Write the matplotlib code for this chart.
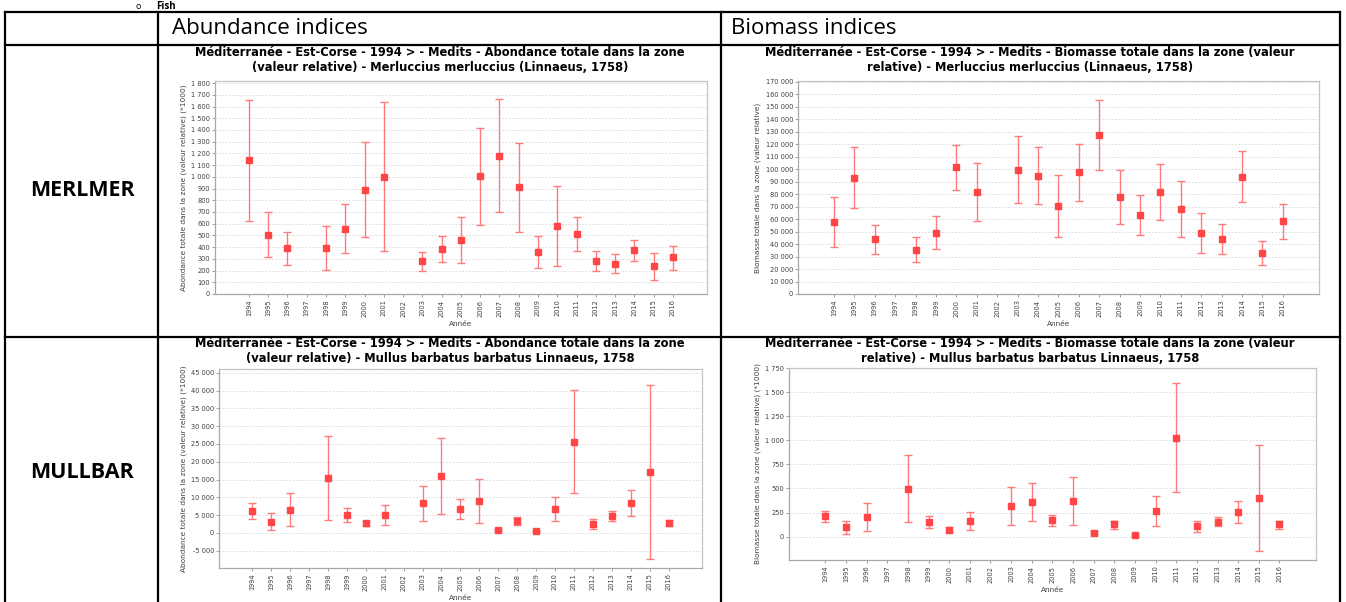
import numpy as np
import matplotlib.pyplot as plt
from matplotlib.lines import Line2D
from matplotlib.ticker import FuncFormatter, MultipleLocator

W, H = 1346, 602

years = list(range(1994, 2017))
nan = np.nan

# MERLMER - abondance (*1000)
merl_ab = [1140, 505, 390, nan, 390, 555, 890, 1000, nan, 280, 380, 458, 1003, 1182, 910, 357, 584, 516, 281, 258, 374, 238, 315]
merl_ab_lo = [625, 315, 250, nan, 205, 350, 485, 365, nan, 200, 272, 264, 590, 700, 527, 221, 238, 366, 196, 179, 281, 119, 207]
merl_ab_hi = [1655, 700, 525, nan, 580, 770, 1300, 1635, nan, 360, 499, 658, 1420, 1661, 1292, 493, 924, 658, 366, 340, 459, 349, 411]

# MERLMER - biomasse
merl_bio = [57300, 93100, 43800, nan, 35500, 48800, 101900, 81700, nan, 99500, 94400, 70300, 97300, 127300, 77700, 63400, 81700, 67900, 49100, 43800, 93900, 32600, 58100]
merl_bio_lo = [37400, 69200, 32100, nan, 25500, 36100, 83600, 58600, nan, 73200, 71900, 45600, 74300, 99200, 55700, 47000, 59200, 45600, 32600, 31800, 73700, 23100, 43800]
merl_bio_hi = [78000, 117500, 55200, nan, 45900, 62100, 119600, 104800, nan, 126300, 117500, 95000, 120200, 155400, 99200, 79600, 104200, 90500, 64500, 55700, 114600, 42400, 72400]

# MULLBAR - abondance (*1000)
mull_ab = [6190, 3000, 6380, nan, 15290, 4880, 2630, 4880, nan, 8260, 16040, 6660, 9010, 750, 3380, 380, 6660, 25520, 2440, 4690, 8260, 16980, 2810]
mull_ab_lo = [3940, 660, 1880, nan, 3560, 3000, 1880, 2250, nan, 3190, 5250, 3750, 2810, 380, 2060, 90, 3190, 11070, 1030, 3190, 4780, -7500, 1880]
mull_ab_hi = [8440, 5530, 11160, nan, 27200, 6850, 3280, 7690, nan, 13230, 26640, 9380, 15100, 1130, 4500, 560, 10030, 40060, 3940, 6000, 12100, 41460, 3660]

# MULLBAR - biomasse (*1000)
mull_bio = [211, 95, 204, nan, 499, 153, 73, 163, nan, 319, 364, 170, 374, 38, 128, 21, 270, 1026, 107, 153, 257, 399, 128]
mull_bio_lo = [148, 28, 56, nan, 153, 94, 45, 66, nan, 121, 166, 107, 121, 24, 83, 7, 114, 465, 45, 107, 146, -153, 83]
mull_bio_hi = [271, 162, 354, nan, 850, 215, 97, 257, nan, 517, 558, 229, 624, 55, 166, 31, 426, 1592, 166, 208, 367, 947, 166]

titles = [
    "Méditerranée - Est-Corse - 1994 > - Medits - Abondance totale dans la zone\n(valeur relative) - Merluccius merluccius (Linnaeus, 1758)",
    "Méditerranée - Est-Corse - 1994 > - Medits - Biomasse totale dans la zone (valeur\nrelative) - Merluccius merluccius (Linnaeus, 1758)",
    "Méditerranée - Est-Corse - 1994 > - Medits - Abondance totale dans la zone\n(valeur relative) - Mullus barbatus barbatus Linnaeus, 1758",
    "Méditerranée - Est-Corse - 1994 > - Medits - Biomasse totale dans la zone (valeur\nrelative) - Mullus barbatus barbatus Linnaeus, 1758",
]
ylabels = [
    "Abondance totale dans la zone (valeur relative) (*1000)",
    "Biomasse totale dans la zone (valeur relative)",
    "Abondance totale dans la zone (valeur relative) (*1000)",
    "Biomasse totale dans la zone (valeur relative) (*1000)",
]


def rect(x0, y0, x1, y1):
    return [x0 / W, 1 - y1 / H, (x1 - x0) / W, (y1 - y0) / H]


def fmt(v, pos):
    return "{:,.0f}".format(v).replace(",", " ")


fig = plt.figure(figsize=(W / 100, H / 100), dpi=100)

panels = [
    (rect(215, 81, 707, 294), merl_ab, merl_ab_lo, merl_ab_hi, (0, 1818), 100, (440, 60)),
    (rect(798, 81, 1319, 294), merl_bio, merl_bio_lo, merl_bio_hi, (0, 170500), 10000, (1030, 60)),
    (rect(219, 369, 702, 568), mull_ab, mull_ab_lo, mull_ab_hi, (-9900, 46100), 5000, (440, 351)),
    (rect(789, 368, 1316, 560), mull_bio, mull_bio_lo, mull_bio_hi, (-243, 1752), 250, (1030, 351)),
]

x = np.arange(len(years))
for i, (r, m, lo, hi, ylim, step, tpos) in enumerate(panels):
    ax = fig.add_axes(r)
    m = np.array(m, dtype=float)
    lo = np.array(lo, dtype=float)
    hi = np.array(hi, dtype=float)
    ax.errorbar(x, m, yerr=[m - lo, hi - m], fmt='none', ecolor='#ff7b7b',
                elinewidth=1.0, capsize=3.2, capthick=1.0, zorder=3)
    ax.plot(x, m, 's', color='#ff4545', ms=4.3, mec='#ff4545', zorder=4)
    ax.set_xlim(-1.76, 23.77)
    ax.set_ylim(*ylim)
    ax.yaxis.set_major_locator(MultipleLocator(step))
    ax.yaxis.set_major_formatter(FuncFormatter(fmt))
    ax.set_xticks(x)
    ax.set_xticklabels([str(y) for y in years], rotation=90, fontsize=4.8, color='#404040')
    ax.tick_params(axis='y', labelsize=4.8, labelcolor='#404040', length=2, width=0.6, color='#909090', pad=1.5)
    ax.tick_params(axis='x', length=2, width=0.6, color='#909090', pad=2)
    ax.grid(axis='y', color='#d6d6d6', lw=0.6, ls=(0, (2, 2)))
    ax.set_axisbelow(True)
    for s in ax.spines.values():
        s.set_color('#c4c4c4')
        s.set_linewidth(0.9)
    ax.spines['left'].set_color('#a8a8a8')
    ax.spines['bottom'].set_color('#a8a8a8')
    ax.set_ylabel(ylabels[i], fontsize=5.3, color='#404040', labelpad=3)
    ax.set_xlabel("Année", fontsize=5.3, color='#404040', labelpad=3)
    fig.text(tpos[0] / W, 1 - tpos[1] / H, titles[i], ha='center', va='center',
             fontsize=8.3, fontweight='bold', linespacing=1.25)

# table frame
lw = 1.6
def hline(y, x0=5, x1=1340):
    fig.add_artist(Line2D([x0 / W, x1 / W], [1 - y / H, 1 - y / H], color='black', lw=lw))

def vline(xp, y0=12, y1=602):
    fig.add_artist(Line2D([xp / W, xp / W], [1 - y0 / H, 1 - y1 / H], color='black', lw=lw))

for yy in [12, 45, 337]:
    hline(yy)
for xx in [5, 158, 721, 1340]:
    vline(xx)

fig.text(172 / W, 1 - 28 / H, "Abundance indices", fontsize=16, family='Open Sans', va='center')
fig.text(731 / W, 1 - 28 / H, "Biomass indices", fontsize=16, family='Open Sans', va='center')
fig.text(82 / W, 1 - 190 / H, "MERLMER", fontsize=15.5, family='Open Sans', fontweight='bold', ha='center', va='center')
fig.text(82 / W, 1 - 472 / H, "MULLBAR", fontsize=15.5, family='Open Sans', fontweight='bold', ha='center', va='center')

# heading at the top of the page (only its lower part shows in the source)
fig.text(136 / W, 1 - 9 / H, "o", fontsize=6.5, family='Open Sans', va='baseline')
fig.text(156 / W, 1 - 9 / H, "Fish", fontsize=7, family='Open Sans', fontweight='bold', va='baseline')

fig.savefig("out.png", dpi=100)
